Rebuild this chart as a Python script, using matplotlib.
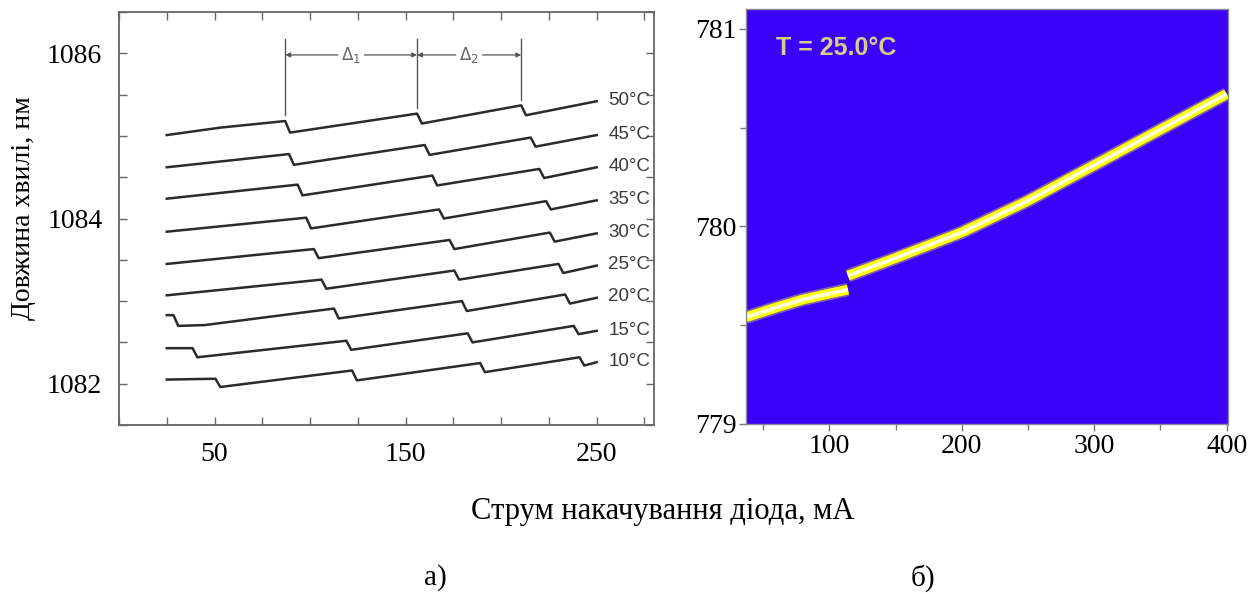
import matplotlib
matplotlib.use("Agg")
import matplotlib.pyplot as plt
from matplotlib.ticker import MultipleLocator, FixedLocator

# --- panel a): wavelength vs pump current, one curve per temperature ---
temps = [50, 45, 40, 35, 30, 25, 20, 15, 10]

t50_x = [25, 53, 87, 89.5, 156, 158.5, 210.5, 213, 250]
t50_y = [1085.01, 1085.10, 1085.18, 1085.04, 1085.27, 1085.15, 1085.37, 1085.25, 1085.42]
t45_x = [25, 89, 91.5, 160, 162.5, 215.5, 218, 250]
t45_y = [1084.62, 1084.78, 1084.65, 1084.89, 1084.77, 1084.98, 1084.87, 1085.01]
t40_x = [25, 93.5, 96, 164, 166.5, 220, 222.5, 250]
t40_y = [1084.24, 1084.41, 1084.28, 1084.52, 1084.40, 1084.60, 1084.49, 1084.62]
t35_x = [25, 98, 100.5, 167.5, 170, 223.5, 226, 250]
t35_y = [1083.84, 1084.01, 1083.88, 1084.11, 1084.00, 1084.21, 1084.11, 1084.22]
t30_x = [25, 102, 104.5, 173, 175.5, 225.5, 228, 250]
t30_y = [1083.45, 1083.63, 1083.52, 1083.74, 1083.63, 1083.83, 1083.72, 1083.82]
t25_x = [25, 106, 108.5, 175.5, 178, 230, 232.5, 250]
t25_y = [1083.07, 1083.26, 1083.15, 1083.37, 1083.26, 1083.45, 1083.34, 1083.43]
t20_x = [25, 28.5, 31, 45, 112.5, 115, 179.5, 182, 233.5, 236, 250]
t20_y = [1082.83, 1082.83, 1082.70, 1082.71, 1082.91, 1082.79, 1083.00, 1082.88, 1083.08, 1082.97, 1083.04]
t15_x = [25, 38.5, 41, 119, 121.5, 182.5, 185, 238, 240.5, 250]
t15_y = [1082.43, 1082.43, 1082.32, 1082.52, 1082.41, 1082.61, 1082.50, 1082.70, 1082.60, 1082.64]
t10_x = [25, 50.5, 53, 122, 124.5, 189, 191.5, 241, 243.5, 250]
t10_y = [1082.05, 1082.06, 1081.96, 1082.16, 1082.04, 1082.25, 1082.14, 1082.32, 1082.22, 1082.26]

# mode-hop spacing markers drawn above the 50 C curve
delta_x = [87, 156, 210.5]
delta_bottom = [1085.25, 1085.34, 1085.44]
delta_labels = [r'$\Delta_1$', r'$\Delta_2$']

# --- panel b): single spectrum trace at T = 25 C ---
b_x1 = [37, 60, 80, 100, 114]
b_y1 = [779.54, 779.59, 779.63, 779.66, 779.68]
b_x2 = [114, 150, 200, 250, 300, 350, 400]
b_y2 = [779.75, 779.84, 779.97, 780.13, 780.31, 780.49, 780.67]

serif = 'Liberation Serif'
sans = 'Liberation Sans'

fig = plt.figure(figsize=(12.58, 5.94), dpi=100)
ax1 = fig.add_axes([119 / 1258, 1 - 425 / 594, 535 / 1258, 413 / 594])
ax2 = fig.add_axes([746 / 1258, 1 - 424 / 594, 482 / 1258, 415 / 594])

curves = [(t50_x, t50_y), (t45_x, t45_y), (t40_x, t40_y), (t35_x, t35_y),
          (t30_x, t30_y), (t25_x, t25_y), (t20_x, t20_y), (t15_x, t15_y),
          (t10_x, t10_y)]

for t, (xs, ys) in zip(temps, curves):
    ax1.plot(xs, ys, color='#2b2b2b', lw=1.8, solid_joinstyle='round')
    ax1.text(256, ys[-1] + 0.01, f'{t}°C', family=sans, fontsize=13.5,
             color='#3a3a3a', ha='left', va='center')

for x0, yb in zip(delta_x, delta_bottom):
    ax1.plot([x0, x0], [yb, 1086.17], color='#555555', lw=1.0)

y_arr = 1085.98
for i, lab in enumerate(delta_labels):
    xa, xb = delta_x[i], delta_x[i + 1]
    xm = (xa + xb) / 2
    gap = 7
    ax1.annotate('', xy=(xa, y_arr), xytext=(xm - gap, y_arr),
                 arrowprops=dict(arrowstyle='-|>', color='#555555', lw=0.9,
                                 mutation_scale=7, shrinkA=0, shrinkB=0))
    ax1.annotate('', xy=(xb, y_arr), xytext=(xm + gap, y_arr),
                 arrowprops=dict(arrowstyle='-|>', color='#555555', lw=0.9,
                                 mutation_scale=7, shrinkA=0, shrinkB=0))
    ax1.text(xm, y_arr, lab, fontsize=12, color='#666666', ha='center', va='center')

ax1.set_xlim(0, 280)
ax1.set_ylim(1081.5, 1086.5)
ax1.xaxis.set_major_locator(FixedLocator([50, 150, 250]))
ax1.xaxis.set_minor_locator(MultipleLocator(25))
ax1.yaxis.set_major_locator(FixedLocator([1082, 1084, 1086]))
ax1.yaxis.set_minor_locator(MultipleLocator(0.5))
ax1.tick_params(which='both', direction='in', top=True, right=True,
                color='#666666', width=1.0)
ax1.tick_params(which='major', length=6, labelsize=20, pad=12)
ax1.tick_params(which='minor', length=6)
for lab in ax1.get_xticklabels() + ax1.get_yticklabels():
    lab.set_family(serif)
for sp in ax1.spines.values():
    sp.set_color('#666666')
    sp.set_linewidth(1.3)

# panel b: blue map background with a glowing yellow trace
ax2.set_facecolor('#3a02f6')
for xs, ys in [(b_x1, b_y1), (b_x2, b_y2)]:
    ax2.plot(xs, ys, color='#d8d840', lw=9.5, alpha=0.45, solid_capstyle='butt')
    ax2.plot(xs, ys, color='#ffff10', lw=7, solid_capstyle='butt')
    ax2.plot(xs, ys, color='#ffffd8', lw=2.6, solid_capstyle='butt')

ax2.text(0.063, 0.905, 'T = 25.0°C', transform=ax2.transAxes, family=sans,
         fontweight='bold', fontsize=18, color='#d8cc8c', ha='left', va='center')

ax2.set_xlim(37, 401)
ax2.set_ylim(779, 781.1)
ax2.xaxis.set_major_locator(FixedLocator([100, 200, 300, 400]))
ax2.xaxis.set_minor_locator(FixedLocator([50, 150, 250, 350]))
ax2.yaxis.set_major_locator(FixedLocator([779, 780, 781]))
ax2.yaxis.set_minor_locator(FixedLocator([779.5, 780.5]))
ax2.tick_params(which='both', direction='out', color='#777777', width=1.0)
ax2.tick_params(which='major', length=5, labelsize=20, pad=2)
ax2.tick_params(which='minor', length=4)
for lab in ax2.get_xticklabels() + ax2.get_yticklabels():
    lab.set_family(serif)
for sp in ax2.spines.values():
    sp.set_color('#8a8a9a')
    sp.set_linewidth(1.0)

fig.text(24 / 1258, 1 - 208 / 594, 'Довжина хвилі, нм', rotation=90,
         family=serif, fontsize=20, ha='center', va='center')
fig.text(663 / 1258, 1 - 512 / 594, 'Струм накачування діода, мА',
         family=serif, fontsize=22, ha='center', va='center')
fig.text(435 / 1258, 1 - 578 / 594, 'а)', family=serif, fontsize=21,
         ha='center', va='center')
fig.text(923 / 1258, 1 - 578 / 594, 'б)', family=serif, fontsize=21,
         ha='center', va='center')

fig.savefig('out.png', dpi=100, facecolor='white')
